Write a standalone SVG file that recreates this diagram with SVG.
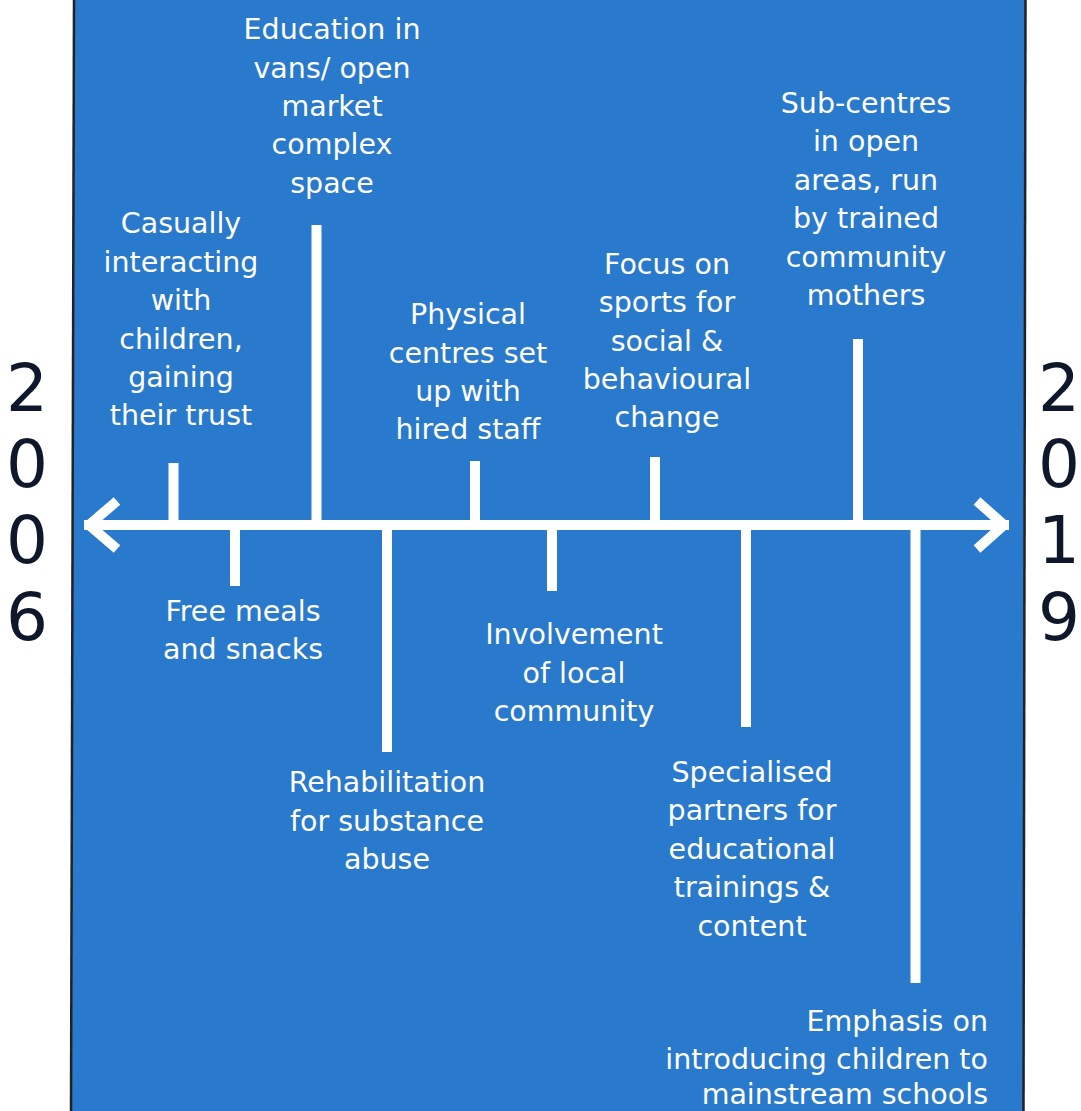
<svg xmlns="http://www.w3.org/2000/svg" width="1081" height="1111" viewBox="0 0 1081 1111">
<style>
.lbl{font-family:"DejaVu Sans","Liberation Sans",sans-serif;font-size:28.5px;fill:#ffffff;text-anchor:middle}
.yr{font-family:"DejaVu Sans","Liberation Sans",sans-serif;font-size:66px;fill:#0f172a;text-anchor:middle}
.tick{fill:#ffffff}
.axis{stroke:#ffffff;stroke-width:10;fill:none}
.edge{stroke:#222222;stroke-width:2.5}
</style>
<rect x="0" y="0" width="1081" height="1111" fill="#ffffff"/>
<g id="panel">
<polygon points="74,0 1025.5,0 1023.5,1111 71,1111" fill="#2979cc"/>
<line class="edge" x1="74" y1="0" x2="71" y2="1111"/>
<line class="edge" x1="1025.5" y1="0" x2="1023.5" y2="1111"/>
</g>
<g id="year-start">
<text class="yr" x="27" y="411">2</text>
<text class="yr" x="27" y="487">0</text>
<text class="yr" x="27" y="563">0</text>
<text class="yr" x="27" y="640">6</text>
</g>
<g id="year-end">
<text class="yr" x="1059" y="411">2</text>
<text class="yr" x="1059" y="487">0</text>
<text class="yr" x="1059" y="563">1</text>
<text class="yr" x="1059" y="640">9</text>
</g>
<g id="connectors">
<line class="axis" x1="84" y1="525" x2="1009" y2="525"/>
<polyline class="axis" points="117,501 89,525 117,549" stroke-linejoin="bevel"/>
<polyline class="axis" points="977,501 1004,525 977,549" stroke-linejoin="bevel"/>
</g>
<g id="n1">
<rect class="tick" x="168.5" y="463" width="10" height="62"/>
<text class="lbl"><tspan x="181" y="233">Casually</tspan><tspan x="181" y="271.5">interacting</tspan><tspan x="181" y="310">with</tspan><tspan x="181" y="348.5">children,</tspan><tspan x="181" y="387">gaining</tspan><tspan x="181" y="425">their trust</tspan></text>
</g>
<g id="n2">
<rect class="tick" x="230" y="525" width="10" height="61"/>
<text class="lbl"><tspan x="243" y="621">Free meals</tspan><tspan x="243" y="659">and snacks</tspan></text>
</g>
<g id="n3">
<rect class="tick" x="311.5" y="225" width="10" height="300"/>
<text class="lbl"><tspan x="332" y="39">Education in</tspan><tspan x="332" y="78">vans/ open</tspan><tspan x="332" y="116">market</tspan><tspan x="332" y="154">complex</tspan><tspan x="332" y="193">space</tspan></text>
</g>
<g id="n4">
<rect class="tick" x="382" y="525" width="10" height="227"/>
<text class="lbl"><tspan x="387" y="792">Rehabilitation</tspan><tspan x="387" y="831">for substance</tspan><tspan x="387" y="869">abuse</tspan></text>
</g>
<g id="n5">
<rect class="tick" x="470" y="461" width="10" height="64"/>
<text class="lbl"><tspan x="468" y="324">Physical</tspan><tspan x="468" y="363">centres set</tspan><tspan x="468" y="401">up with</tspan><tspan x="468" y="439">hired staff</tspan></text>
</g>
<g id="n6">
<rect class="tick" x="547" y="525" width="10" height="66"/>
<text class="lbl"><tspan x="574" y="644">Involvement</tspan><tspan x="574" y="683">of local</tspan><tspan x="574" y="721">community</tspan></text>
</g>
<g id="n7">
<rect class="tick" x="650" y="457" width="10" height="68"/>
<text class="lbl"><tspan x="667" y="274">Focus on</tspan><tspan x="667" y="312">sports for</tspan><tspan x="667" y="351">social &amp;</tspan><tspan x="667" y="389">behavioural</tspan><tspan x="667" y="427">change</tspan></text>
</g>
<g id="n8">
<rect class="tick" x="741" y="525" width="10" height="202"/>
<text class="lbl"><tspan x="752" y="782">Specialised</tspan><tspan x="752" y="820">partners for</tspan><tspan x="752" y="859">educational</tspan><tspan x="752" y="897">trainings &amp;</tspan><tspan x="752" y="936">content</tspan></text>
</g>
<g id="n9">
<rect class="tick" x="853" y="339" width="10" height="186"/>
<text class="lbl"><tspan x="866" y="113">Sub-centres</tspan><tspan x="866" y="151">in open</tspan><tspan x="866" y="190">areas, run</tspan><tspan x="866" y="228">by trained</tspan><tspan x="866" y="267">community</tspan><tspan x="866" y="305">mothers</tspan></text>
</g>
<g id="n10">
<rect class="tick" x="910.5" y="525" width="10" height="458"/>
<text class="lbl" style="text-anchor:end"><tspan x="988" y="1031">Emphasis on</tspan><tspan x="988" y="1069">introducing children to</tspan><tspan x="988" y="1104">mainstream schools</tspan></text>
</g>
</svg>
